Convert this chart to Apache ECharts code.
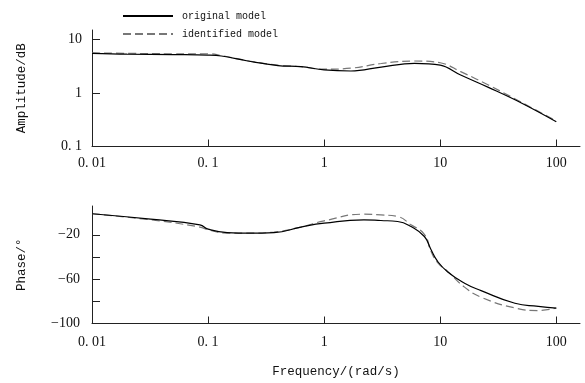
<!DOCTYPE html>
<html>
<head>
<meta charset="utf-8">
<script src="https://cdn.jsdelivr.net/npm/echarts@6/dist/echarts.min.js"></script>
<style>
html,body{margin:0;padding:0;background:#fff;}
#chart{width:585px;height:383px;}
</style>
</head>
<body>
<div id="chart"></div>
<script>
// ---- data ----
var seriesNames = ['original model', 'identified model'];

var freqAmp = [0.01, 0.02, 0.05, 0.1, 0.13, 0.22, 0.4, 0.63, 1, 1.7, 3.1, 6, 10, 15, 26, 50, 100];
var ampOriginal = [5.5, 5.3, 5.2, 5.1, 4.9, 3.95, 3.25, 3.1, 2.7, 2.57, 3.05, 3.57, 3.3, 2.16, 1.27, 0.65, 0.29];
var ampIdentified = [5.6, 5.5, 5.4, 5.4, 5.0, 4.0, 3.3, 3.1, 2.78, 2.9, 3.55, 3.95, 3.67, 2.5, 1.41, 0.67, 0.3];

var freqPh = [0.01, 0.032, 0.085, 0.1, 0.146, 0.23, 0.37, 0.63, 1, 2.2, 3.08, 4.3, 5.6, 7.3, 8.3, 9.5, 11.6, 16.2, 22.5, 44, 70, 100];
var phOriginal = [-1, -5.9, -11, -14.9, -18, -18.5, -18, -13, -9.5, -6.5, -7.1, -8, -12.5, -21.5, -33, -44, -53.5, -63.6, -70.3, -81.7, -84.5, -86.2];
var phIdentified = [-1, -6.5, -13, -15.5, -18.5, -18.5, -17.5, -13, -7.4, -1.4, -2, -3.5, -11, -19.5, -34.5, -45, -53, -67.2, -76.3, -86, -88.3, -86];

var freqTicks = [0.01, 0.1, 1, 10, 100];
var ampTicks = [0.1, 1, 10];
var phaseTicks = [-100, -80, -60, -40, -20];
var phaseLabels = [-100, -60, -20];

function pairs(xs, ys) { return xs.map(function (x, i) { return [x, ys[i]]; }); }
function fmtNum(v) {
  var s = String(+v.toPrecision(6));
  s = s.replace('.', '. ');
  return s.replace('-', '\u2212');
}

var tickFont = { fontFamily: 'Liberation Serif', fontSize: 14, color: '#111' };
var nameFont = { fontFamily: 'Liberation Mono', fontSize: 12.5, color: '#111' };
var axLine = { show: true, onZero: false, lineStyle: { color: '#222', width: 1 } };

var chart = echarts.init(document.getElementById('chart'), null, { renderer: 'canvas' });
chart.setOption({
  animation: false,
  backgroundColor: '#fff',
  legend: {
    orient: 'vertical',
    left: 117, top: 6,
    itemWidth: 50, itemHeight: 12, itemGap: 8,
    data: seriesNames,
    itemStyle: { color: 'rgba(0,0,0,0)', borderWidth: 0, opacity: 0 },
    textStyle: { fontFamily: 'Liberation Mono', fontSize: 10, color: '#111', padding: [0, 0, 0, 4] }
  },
  grid: [
    { left: 92, right: 5, top: 30, height: 116.5 },
    { left: 92, right: 5, top: 206, height: 117.5 }
  ],
  xAxis: [
    {
      gridIndex: 0, type: 'log', min: 0.01, max: 160, logBase: 10,
      axisLine: axLine, splitLine: { show: false },
      axisTick: { inside: true, length: 7, lineStyle: { color: '#222' }, customValues: freqTicks },
      axisLabel: Object.assign({ margin: 10, formatter: fmtNum, customValues: freqTicks }, tickFont)
    },
    {
      gridIndex: 1, type: 'log', min: 0.01, max: 160, logBase: 10,
      axisLine: axLine, splitLine: { show: false },
      axisTick: { inside: true, length: 7, lineStyle: { color: '#222' }, customValues: freqTicks },
      axisLabel: Object.assign({ margin: 12, formatter: fmtNum, customValues: freqTicks }, tickFont),
      name: 'Frequency/(rad/s)', nameLocation: 'middle', nameGap: 42,
      nameTextStyle: nameFont
    }
  ],
  yAxis: [
    {
      gridIndex: 0, type: 'log', min: 0.1, max: 15, logBase: 10,
      axisLine: axLine, splitLine: { show: false },
      axisTick: { inside: true, length: 8, lineStyle: { color: '#222' }, customValues: ampTicks },
      axisLabel: Object.assign({ margin: 10, formatter: fmtNum, customValues: ampTicks }, tickFont),
      name: 'Amplitude/dB', nameLocation: 'middle', nameGap: 64,
      nameTextStyle: nameFont
    },
    {
      gridIndex: 1, type: 'value', min: -100, max: 6,
      axisLine: axLine, splitLine: { show: false },
      axisTick: { inside: true, length: 8, lineStyle: { color: '#222' }, customValues: phaseTicks },
      axisLabel: Object.assign({ margin: 12, formatter: fmtNum, customValues: phaseLabels }, tickFont),
      name: 'Phase/\u00b0', nameLocation: 'middle', nameGap: 64,
      nameTextStyle: nameFont
    }
  ],
  series: [
    {
      name: seriesNames[0], type: 'line', xAxisIndex: 0, yAxisIndex: 0,
      data: pairs(freqAmp, ampOriginal), smooth: 0.4, symbol: 'none',
      lineStyle: { color: '#000', width: 1.2 }, itemStyle: { color: '#000' }, z: 3
    },
    {
      name: seriesNames[1], type: 'line', xAxisIndex: 0, yAxisIndex: 0,
      data: pairs(freqAmp, ampIdentified), smooth: 0.4, symbol: 'none',
      lineStyle: { color: '#777', width: 1.2, type: [8, 4] }, itemStyle: { color: '#777' }, z: 2
    },
    {
      name: seriesNames[0], type: 'line', xAxisIndex: 1, yAxisIndex: 1,
      data: pairs(freqPh, phOriginal), smooth: 0.5, symbol: 'none',
      lineStyle: { color: '#000', width: 1.2 }, itemStyle: { color: '#000' }, z: 3
    },
    {
      name: seriesNames[1], type: 'line', xAxisIndex: 1, yAxisIndex: 1,
      data: pairs(freqPh, phIdentified), smooth: 0.5, symbol: 'none',
      lineStyle: { color: '#777', width: 1.2, type: [8, 4] }, itemStyle: { color: '#777' }, z: 2
    }
  ]
});
</script>
</body>
</html>
